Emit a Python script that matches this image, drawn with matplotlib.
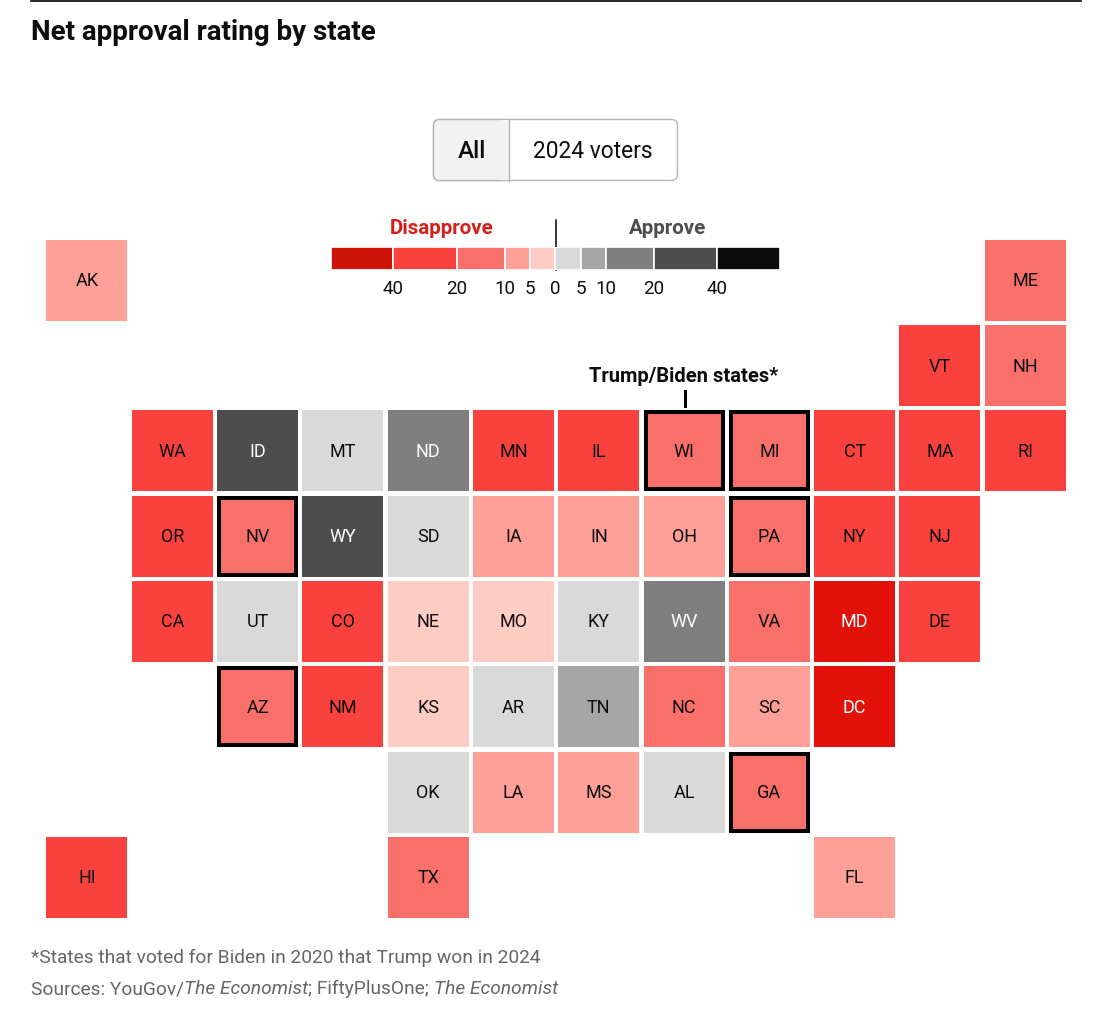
import matplotlib
matplotlib.use("Agg")
import matplotlib.pyplot as plt
from matplotlib.colors import BoundaryNorm, ListedColormap
from matplotlib.patches import Rectangle, FancyBboxPatch

plt.rcParams['font.family'] = ['Roboto', 'DejaVu Sans']

states = ['AK','ME','VT','NH','WA','ID','MT','ND','MN','IL','WI','MI','CT','MA','RI',
          'OR','NV','WY','SD','IA','IN','OH','PA','NY','NJ',
          'CA','UT','CO','NE','MO','KY','WV','VA','MD','DE',
          'AZ','NM','KS','AR','TN','NC','SC','DC',
          'OK','LA','MS','AL','GA','HI','TX','FL']
cols = [0,11,10,11,1,2,3,4,5,6,7,8,9,10,11,
        1,2,3,4,5,6,7,8,9,10,
        1,2,3,4,5,6,7,8,9,10,
        2,3,4,5,6,7,8,9,
        4,5,6,7,8,0,4,9]
rows = [0,0,1,1,2,2,2,2,2,2,2,2,2,2,2,
        3,3,3,3,3,3,3,3,3,3,
        4,4,4,4,4,4,4,4,4,4,
        5,5,5,5,5,5,5,5,
        6,6,6,6,6,7,7,7]
net = [-8,-15,-25,-15,-25,30,3,15,-25,-25,-15,-15,-25,-28,-25,
       -25,-13,30,3,-8,-8,-7,-14,-25,-24,
       -30,3,-25,-3,-3,3,15,-15,-45,-25,
       -13,-25,-3,3,8,-14,-8,-60,
       3,-8,-8,3,-13,-30,-14,-7]
swing = ['WI','MI','NV','PA','AZ','GA']
white_text = ['ID','ND','WY','WV','MD','DC']

bounds = [-100,-40,-20,-10,-5,0,5,10,20,40,100]
colors = ['#E2120B','#F9423D','#F9706A','#FE9F98','#FFCCC3',
          '#D9D9D9','#A6A6A6','#7F7F7F','#4D4D4D','#0D0D0D']
legend_colors = ['#CC1408'] + colors[1:]
legend_ticks = [40,20,10,5,0,5,10,20,40]

W, H = 1093, 1017
fig = plt.figure(figsize=(W/100, H/100), dpi=100, facecolor='white')

def ax_px(l, t, r, b, **kw):
    return fig.add_axes([l/W, 1-b/H, (r-l)/W, (b-t)/H], **kw)

# page-level furniture, in pixel coordinates
page = ax_px(0, 0, W, H)
page.set_xlim(0, W); page.set_ylim(H, 0); page.axis('off')
page.plot([31, 1081], [0.5, 0.5], color='black', lw=1.2, clip_on=False)
page.text(31, 33, 'Net approval rating by state', fontsize=20, fontweight='bold',
          va='center', ha='left', color='#0D0D0D')

page.add_patch(FancyBboxPatch((433.5, 119.5), 244, 61, boxstyle='round,pad=0,rounding_size=6',
                              fc='white', ec='#B7B7B7', lw=1, zorder=1))
page.add_patch(FancyBboxPatch((433.5, 119.5), 75, 61, boxstyle='round,pad=0,rounding_size=6',
                              fc='#F2F2F2', ec='#B7B7B7', lw=1, zorder=2))
page.add_patch(Rectangle((500, 120), 8.5, 60, fc='#F2F2F2', ec='none', zorder=2))
page.plot([508.5, 508.5], [119.5, 180.5], color='#B7B7B7', lw=1, zorder=3)
page.text(471.5, 151.5, 'All', fontsize=17.5, fontweight='medium', ha='center', va='center', color='#0D0D0D', zorder=4)
page.text(593, 151.5, '2024 voters', fontsize=16.4, ha='center', va='center', color='#0D0D0D', zorder=4)

page.text(442, 228, 'Disapprove', fontsize=14.8, fontweight='bold', ha='center', va='center', color='#D3201A')
page.text(668, 229, 'Approve', fontsize=14.8, fontweight='bold', ha='center', va='center', color='#4D4D4D')

# colour key: widths follow the reference's uneven spacing
key_edges = [331,393,457,505,530,555,581,606,654,717,780]
key = ax_px(331, 247.5, 780, 270)
key.set_xlim(331, 780); key.set_ylim(0, 1); key.axis('off')
for a, b, c in zip(key_edges[:-1], key_edges[1:], legend_colors):
    key.bar(a, 1, width=b-a, bottom=0, align='edge', color=c, edgecolor='white', linewidth=1.2)
for x, t in zip(key_edges[1:-1], legend_ticks):
    page.text(x, 288.5, str(t), fontsize=13.5, ha='center', va='center', color='#0D0D0D')
page.plot([555.5, 555.5], [220, 284 - 14], color='black', lw=1.1, zorder=5)

page.text(684, 377, 'Trump/Biden states*', fontsize=14.5, fontweight='bold', ha='center', va='center', color='#0D0D0D')
page.plot([685, 685], [391, 406], color='black', lw=2.2)

# tile grid
step_x, step_y = 85.3, 85.3
x0, y0 = 87 - step_x/2, 280.2 - step_y/2
grid = ax_px(x0, y0, x0 + 12*step_x, y0 + 8*step_y)
grid.set_xlim(-0.5, 11.5); grid.set_ylim(7.5, -0.5); grid.axis('off')
grid.patch.set_alpha(0)
cmap = ListedColormap(colors)
norm = BoundaryNorm(bounds, cmap.N)
size = 81 / step_x
for s, c, r, v in zip(states, cols, rows, net):
    grid.bar(c, size, bottom=r - size/2, width=size, color=cmap(norm(v)), linewidth=0)
    grid.text(c, r + 0.012, s, ha='center', va='center', fontsize=13,
              color='white' if s in white_text else '#0D0D0D')
    if s in swing:
        i = 2 / step_x
        grid.add_patch(Rectangle((c - size/2 + i, r - size/2 + i), size - 2*i, size - 2*i,
                                 fc='none', ec='black', lw=2.9, joinstyle='miter'))

# footer, mixing roman and italic runs
fig.canvas.draw()
rend = fig.canvas.get_renderer()
def runs(y, parts, x=31):
    for txt, style in parts:
        t = page.text(x, y, txt, fontsize=13.75, style=style, va='center', ha='left', color='#666666')
        x = t.get_window_extent(rend).x1
        if txt.endswith(' '):
            x += 0.5

runs(958, [('*States that voted for Biden in 2020 that Trump won in 2024', 'normal')])
runs(989, [('Sources: YouGov/', 'normal'), ('The Economist', 'italic'), ('; FiftyPlusOne; ', 'normal'), ('The Economist', 'italic')])

fig.savefig('out.png', dpi=100)
